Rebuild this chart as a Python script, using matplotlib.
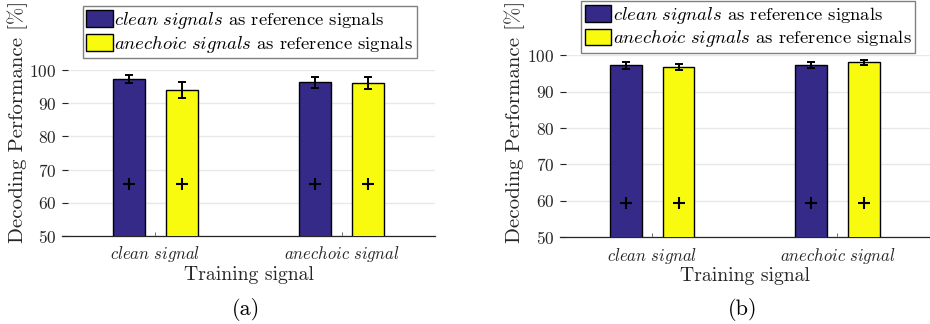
import numpy as np
import matplotlib
matplotlib.use('Agg')
import matplotlib.pyplot as plt

plt.rcParams['font.family'] = 'serif'
plt.rcParams['font.serif'] = ['cmr10']
plt.rcParams['mathtext.fontset'] = 'cm'
plt.rcParams['axes.formatter.use_mathtext'] = True

# training signals on the x axis
training = [r'$\mathit{clean\ signal}$', r'$\mathit{anechoic\ signal}$']
series_labels = [r'$\mathit{clean\ signals}$ as reference signals',
                 r'$\mathit{anechoic\ signals}$ as reference signals']

# (a)
a_clean = [97.3, 96.3]
a_clean_err = [1.1, 1.7]
a_anech = [93.9, 96.1]
a_anech_err = [2.4, 1.8]
a_marker = [65.8, 65.8, 65.8, 65.8]

# (b)
b_clean = [97.2, 97.3]
b_clean_err = [0.9, 0.8]
b_anech = [96.7, 98.1]
b_anech_err = [0.85, 0.7]
b_marker = [59.5, 59.5, 59.5, 59.5]

blue = '#352a87'
yellow = '#f9fb0e'
dark = '#262626'


def panel(fig, rect, clean, clean_err, anech, anech_err, marker, letter,
          leg_anchor, ylab_x):
    ax = fig.add_axes(rect)
    x = np.arange(1, len(training) + 1)
    off = 0.142
    w = 0.171
    b1 = ax.bar(x - off, clean, w, bottom=0, color=blue, edgecolor='black',
                linewidth=1.0, zorder=3, label=series_labels[0])
    b2 = ax.bar(x + off, anech, w, bottom=0, color=yellow, edgecolor='black',
                linewidth=1.0, zorder=3, label=series_labels[1])
    ax.errorbar(x - off, clean, yerr=clean_err, fmt='none', ecolor='black',
                elinewidth=1.4, capsize=3, capthick=1.4, zorder=4)
    ax.errorbar(x + off, anech, yerr=anech_err, fmt='none', ecolor='black',
                elinewidth=1.4, capsize=3, capthick=1.4, zorder=4)
    xs = np.concatenate([x - off, x + off])
    ax.plot(xs, marker, linestyle='none', marker='+', color='black',
            markersize=8, markeredgewidth=1.5, zorder=5)

    ax.set_xlim(0.5, 2.5)
    ax.set_ylim(50, 100)
    ax.set_yticks(np.arange(50, 101, 10))
    ax.set_xticks(x)
    ax.set_xticklabels(training, fontsize=12, color=dark)
    ax.tick_params(axis='y', direction='in', length=4, width=0.8,
                   color=dark, labelcolor=dark, labelsize=12.5, pad=4)
    ax.tick_params(axis='x', direction='in', length=3, width=0.6,
                   color='#555555', pad=6)
    for s in ['top', 'right', 'left']:
        ax.spines[s].set_visible(False)
    ax.spines['bottom'].set_color(dark)
    ax.spines['bottom'].set_linewidth(0.9)
    ax.yaxis.grid(True, color='#e8e8e8', linewidth=1.0, zorder=0)
    ax.set_axisbelow(True)

    ax.set_xlabel('Training signal', fontsize=14.2, color=dark, labelpad=1)
    fig.text(ylab_x, 0.625, 'Decoding Performance [%]',
             rotation=90, ha='center', va='center', fontsize=15, color=dark)
    fig.text(rect[0] + rect[2] / 2 - 0.003, 0.045, letter, ha='center',
             va='center', fontsize=16, color='black')

    leg = ax.legend(handles=[b1, b2], loc='upper left',
                    bbox_to_anchor=leg_anchor,
                    bbox_transform=fig.transFigure, fontsize=13.4,
                    frameon=True, fancybox=False, framealpha=1,
                    edgecolor='#808080', borderpad=0.2, labelspacing=0.15,
                    handlelength=1.4, handleheight=1.0, handletextpad=0.1,
                    borderaxespad=0)
    leg.get_frame().set_linewidth(1.0)
    return ax


fig = plt.figure(figsize=(9.3, 3.24), dpi=100)

panel(fig, [0.0667, 0.2716, 0.401, 0.512], a_clean, a_clean_err,
      a_anech, a_anech_err, a_marker, '(a)', (0.089, 0.981), 0.019)
panel(fig, [0.602, 0.2676, 0.398, 0.562], b_clean, b_clean_err,
      b_anech, b_anech_err, b_marker, '(b)', (0.625, 0.997), 0.553)

fig.savefig('out.png', dpi=100)
